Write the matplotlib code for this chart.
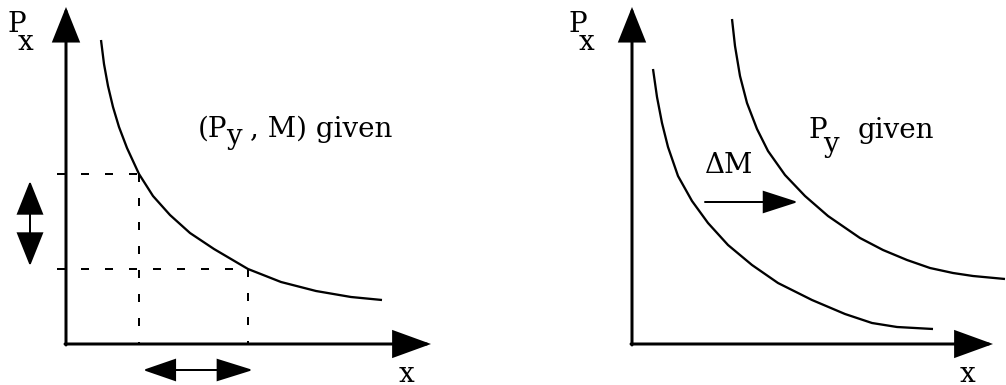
import matplotlib
matplotlib.use("Agg")
import matplotlib.pyplot as plt

plt.rcParams['lines.scale_dashes'] = False
plt.rcParams['font.family'] = ['DejaVu Serif']

# Left panel: demand for x with (P_y, M) held fixed -- quantity vs own price
demand_q = [35, 38, 42, 47, 53, 61, 73, 87, 104, 124, 148, 182, 215, 250, 285, 316]
demand_p = [304, 280, 258, 237, 217, 196, 170, 148, 129, 111, 95, 75, 62, 53, 47, 44]

# Two price levels on that curve and the quantities demanded at them
marked_q = [73, 182]
marked_p = [170, 75]

# Right panel: demand before and after an income rise (P_y fixed)
before_q = [21, 25, 30, 36, 46, 60, 76, 96, 120, 146, 180, 213, 240, 265, 301]
before_p = [275, 247, 221, 197, 168, 143, 121, 99, 79, 61, 44, 30, 21, 17, 15]
after_q = [100, 103, 108, 115, 125, 136, 153, 173, 196, 228, 251, 275, 298, 321, 341, 373]
after_p = [325, 298, 268, 241, 215, 193, 169, 148, 128, 106, 94, 84, 76, 71, 68, 65]

DPI = 100
PX = 72.0 / DPI          # one pixel in points
FS = 20                  # label font size (pt)
CURVE_LW = 2.3 * PX
AXIS_LW = 3 * PX

fig = plt.figure(figsize=(10.06, 3.85), dpi=DPI)
fig.patch.set_facecolor('white')
axL = fig.add_axes([0, 0, 0.5, 1])
axR = fig.add_axes([0.5, 0, 0.5, 1])
axL.set_xlim(-66, 437)
axL.set_ylim(-41, 344)
axR.set_xlim(-129, 374)
axR.set_ylim(-41, 344)
for ax in (axL, axR):
    ax.axis('off')


def arrow(ax, start, end, hl, hw, lw):
    ax.annotate('', xy=end, xytext=start,
                arrowprops=dict(arrowstyle=f'-|>,head_length={hl * PX},head_width={hw * PX}',
                                mutation_scale=1, lw=lw * PX, color='black',
                                shrinkA=0, shrinkB=0, joinstyle='miter'))


def label(ax, x, y, s):
    ax.text(x, y, s, fontsize=FS, ha='left', va='baseline', color='black')


# ---- left panel ----
arrow(axL, (0, -1), (0, 337), 30, 12, 3)
arrow(axL, (-1, 0), (365, 0), 33, 12, 3)
axL.plot(demand_q, demand_p, color='black', lw=CURVE_LW,
         solid_joinstyle='round', solid_capstyle='butt')

dash = (8 * PX, 16 * PX)
for q, p in zip(marked_q, marked_p):
    axL.plot([-9, q], [p, p], color='black', lw=2 * PX, dashes=dash)
    axL.plot([q, q], [p, 0], color='black', lw=2 * PX, dashes=dash)

# price change (vertical) and resulting quantity change (horizontal)
arrow(axL, (-36, 120), (-36, 163), 30, 12, 2)
arrow(axL, (-36, 120), (-36, 78), 30, 12, 2)
arrow(axL, (132, -26), (77, -26), 29, 10, 2)
arrow(axL, (132, -26), (187, -26), 32, 10, 2)

label(axL, -58, 312, 'P')
label(axL, -48, 294, 'x')
label(axL, 132, 207, '(P')
label(axL, 160, 200, 'y')
label(axL, 184, 207, ', M) given')
label(axL, 333, -38, 'x')

# ---- right panel ----
arrow(axR, (0, -1), (0, 337), 30, 12, 3)
arrow(axR, (-1, 0), (361, 0), 33, 12, 3)
axR.plot(before_q, before_p, color='black', lw=CURVE_LW,
         solid_joinstyle='round', solid_capstyle='butt')
axR.plot(after_q, after_p, color='black', lw=CURVE_LW,
         solid_joinstyle='round', solid_capstyle='butt')

arrow(axR, (73, 142), (166, 142), 31, 10, 2)

label(axR, -64, 312, 'P')
label(axR, -53, 294, 'x')
label(axR, 73, 171, 'ΔM')
label(axR, 176, 206, 'P')
label(axR, 191, 192, 'y')
label(axR, 226, 206, 'given')
label(axR, 328, -38, 'x')

fig.savefig('out.png', dpi=DPI, facecolor='white')
